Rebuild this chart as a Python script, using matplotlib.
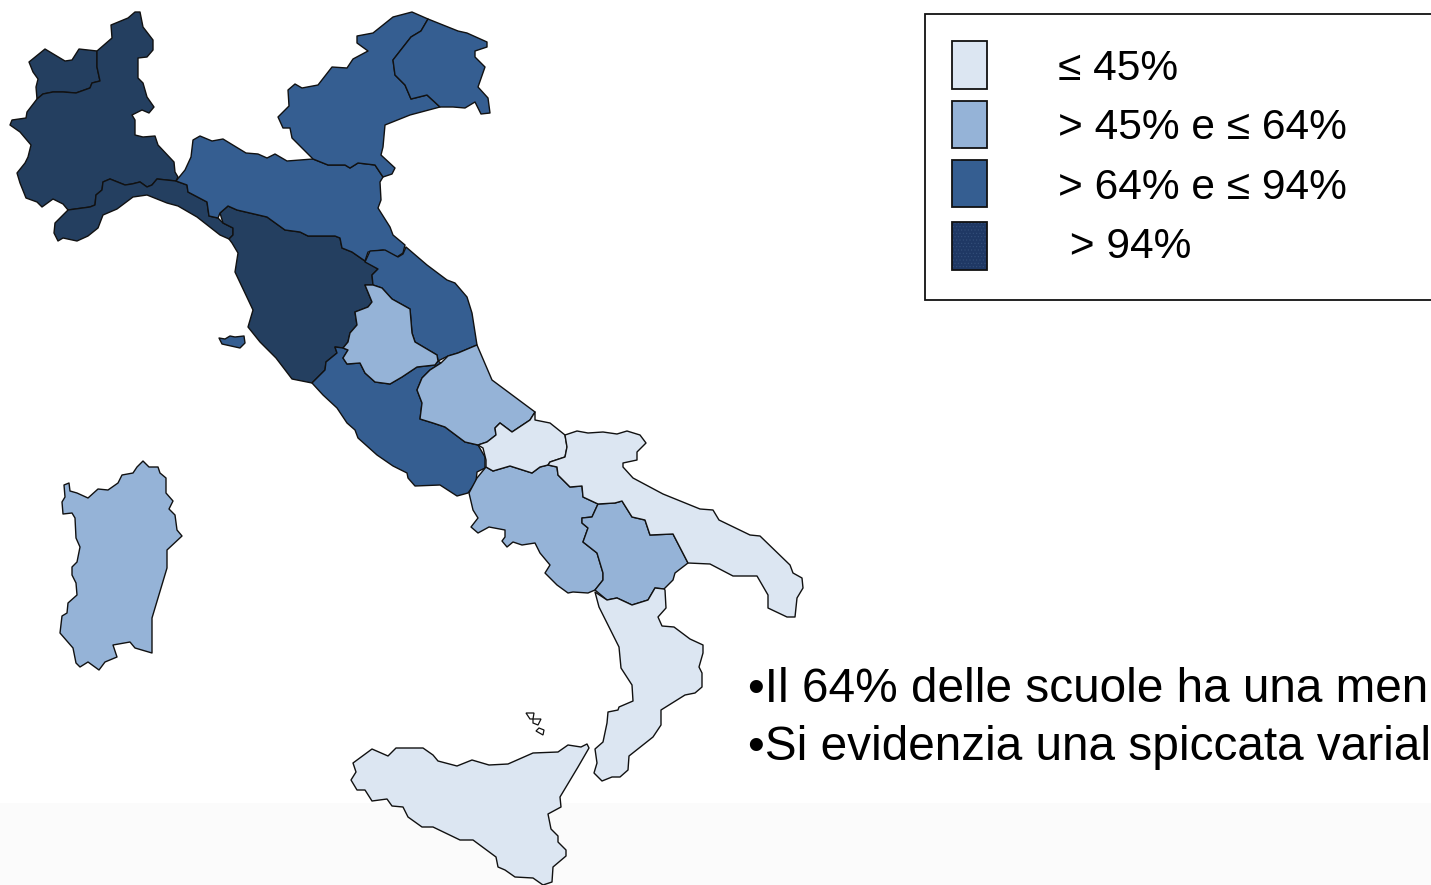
import matplotlib
matplotlib.use('Agg')
import matplotlib.pyplot as plt
from matplotlib.patches import Polygon, Rectangle

plt.rcParams['font.family'] = ['Liberation Sans', 'DejaVu Sans']

LIGHTEST = '#DCE6F2'
LIGHT = '#95B3D7'
MID = '#355E91'
DARK = '#243F60'

# region outlines in image pixels
aosta = [(29,62),(45,49),(55,55),(65,61),(72,60),(79,49),(97,51),(97,67),(100,81),(92,83),(90,88),(76,93),
         (63,92),(53,92),(43,94),(37,99),(36,87),(38,79),(33,72)]
nord_ovest = [(97,51),(112,38),(111,25),(128,18),(135,12),(140,12),(143,27),(153,40),(153,50),(147,57),(138,58),
              (138,78),(143,83),(147,97),(154,107),(149,113),(142,110),(132,115),(135,120),(135,135),(143,137),
              (155,136),(158,145),(174,162),(175,172),(178,177),(176,181),(157,179),(152,185),(147,187),(140,182),
              (132,184),(125,185),(110,179),(103,182),(102,190),(96,195),(95,205),(90,207),(68,210),(63,204),
              (53,199),(42,207),(37,202),(26,198),(20,183),(17,173),(25,163),(28,157),(31,145),(20,132),(10,125),
              (12,120),(26,118),(27,112),(37,99),(43,94),(53,92),(63,92),(76,93),(90,88),(92,83),(100,81),(97,67)]
liguria = [(68,210),(90,207),(95,205),(96,195),(102,190),(103,182),(110,179),(125,185),(132,184),(140,182),(147,187),
           (152,185),(157,179),(176,181),(187,185),(188,192),(207,202),(209,216),(218,218),(223,223),(233,228),
           (233,235),(229,239),(220,235),(197,217),(178,206),(167,203),(147,195),(133,197),(117,209),(103,215),
           (98,228),(88,236),(77,241),(63,238),(58,241),(54,233),(55,223)]
emilia = [(176,181),(185,170),(191,157),(193,140),(200,136),(212,141),(223,139),(246,153),(258,154),(267,158),
          (275,154),(287,161),(313,159),(328,165),(345,165),(350,168),(358,163),(375,165),(383,177),(380,182),
          (381,200),(378,208),(390,227),(393,235),(405,245),(403,253),(397,257),(383,250),(368,252),(365,261),
          (352,252),(342,248),(340,238),(335,236),(308,236),(300,232),(285,230),(267,217),(237,210),(228,206),
          (220,213),(218,218),(209,216),(207,202),(188,192),(187,185)]
veneto = [(313,159),(292,138),(290,128),(283,128),(278,117),(289,106),(288,90),(295,84),(302,88),(318,85),(332,67),
          (347,68),(353,59),(368,51),(357,43),(357,36),(373,33),(393,17),(412,12),(428,19),(421,31),(411,37),
          (393,60),(395,75),(405,85),(411,99),(427,95),(440,107),(410,115),(385,125),(383,147),(381,155),(395,168),
          (392,174),(383,177),(375,165),(358,163),(350,168),(345,165),(328,165)]
friuli = [(428,19),(458,31),(467,33),(487,42),(487,47),(475,51),(475,57),(485,67),(478,87),(488,98),(490,113),
          (481,114),(475,102),(465,108),(453,107),(440,107),(427,95),(411,99),(405,85),(395,75),(393,60),(411,37),
          (421,31)]
toscana = [(220,213),(228,206),(237,210),(267,217),(285,230),(300,232),(308,236),(335,236),(340,238),(342,248),
           (352,252),(365,261),(378,269),(372,275),(373,285),(365,285),(372,302),(368,307),(355,312),(357,325),
           (350,333),(348,342),(343,348),(335,347),(337,353),(326,362),(325,370),(312,383),(292,379),(276,358),
           (260,342),(248,327),(253,310),(235,272),(238,253),(232,243),(229,239),(233,235),(233,228),(223,223)]
elba = [(219,338),(222,344),(240,348),(245,343),(244,336),(235,337),(230,336),(225,339)]
marche = [(365,262),(370,251),(385,250),(398,257),(403,254),(406,247),(427,265),(447,280),(455,283),(467,297),
          (472,313),(477,345),(458,353),(448,356),(438,361),(437,355),(415,342),(412,333),(410,309),(392,299),
          (382,288),(373,285),(372,275),(378,269)]
umbria = [(365,285),(373,285),(382,288),(392,299),(410,309),(412,333),(415,342),(437,355),(438,361),(435,365),
          (417,367),(402,377),(390,384),(375,382),(365,373),(360,363),(347,364),(343,358),(348,350),(343,348),
          (348,342),(350,333),(357,325),(355,312),(368,307),(372,302)]
lazio = [(312,383),(325,370),(326,362),(337,353),(335,347),(343,348),(348,350),(343,358),(347,364),(360,363),
         (365,373),(375,382),(390,384),(402,377),(417,367),(435,365),(438,361),(441,363),(430,370),(422,378),
         (417,390),(422,403),(420,419),(433,423),(445,427),(465,442),(478,445),(485,457),(485,468),(477,472),
         (476,482),(468,493),(457,496),(440,485),(415,486),(408,478),(407,473),(393,466),(377,455),(358,438),
         (355,430),(347,423),(337,408),(323,395)]
abruzzo = [(477,345),(492,380),(535,412),(530,420),(512,432),(500,423),(495,428),(496,435),(487,442),(478,445),
           (465,442),(445,427),(433,423),(420,419),(422,403),(417,390),(422,378),(430,370),(441,363),(448,356),
           (458,353)]
molise = [(535,412),(535,420),(550,423),(565,435),(567,447),(565,457),(550,462),(548,465),(540,467),(532,473),
          (510,466),(493,471),(486,467),(486,460),(483,448),(478,445),(487,442),(496,435),(495,428),(500,423),
          (512,432),(530,420)]
campania = [(486,467),(493,471),(510,466),(532,473),(540,467),(548,465),(557,467),(558,475),(570,487),(582,486),
            (583,497),(598,504),(592,517),(582,518),(582,523),(588,528),(583,542),(597,553),(603,573),(603,580),
            (595,590),(588,593),(573,592),(568,593),(557,585),(545,573),(550,565),(540,553),(535,543),(522,545),
            (513,542),(507,547),(502,541),(505,537),(505,530),(489,527),(478,533),(471,527),(478,518),(473,510),
            (469,493),(477,478)]
basilicata = [(598,504),(615,503),(622,501),(632,517),(645,520),(650,535),(673,534),(688,563),(675,573),(673,580),
              (664,589),(655,588),(648,600),(632,605),(617,598),(607,600),(595,590),(603,580),(603,573),(597,553),
              (583,542),(588,528),(582,523),(582,518),(592,517)]
puglia = [(565,435),(577,431),(588,433),(603,432),(617,434),(627,431),(640,435),(646,443),(637,452),(637,460),
          (623,463),(623,467),(633,478),(663,494),(700,509),(713,510),(719,520),(750,535),(760,536),(790,565),
          (793,573),(802,578),(803,588),(797,598),(795,617),(787,617),(768,608),(768,595),(757,576),(733,576),
          (710,564),(688,563),(673,534),(650,535),(645,520),(632,517),(622,501),(615,503),(598,504),(583,497),
          (582,486),(570,487),(558,475),(557,467),(548,465),(550,462),(565,457),(567,447)]
calabria = [(595,592),(599,607),(619,647),(621,668),(632,685),(633,701),(619,707),(618,710),(608,712),(607,723),
            (603,742),(595,749),(597,763),(594,773),(602,781),(612,777),(620,777),(628,770),(629,756),(653,737),
            (661,725),(661,710),(685,695),(695,693),(702,687),(702,673),(699,667),(703,653),(703,645),(690,639),
            (674,627),(662,626),(658,617),(666,608),(665,590),(664,589),(655,588),(648,600),(632,605),(617,598),
            (607,600)]
sicilia = [(353,763),(372,749),(388,756),(396,748),(423,748),(433,755),(438,761),(457,766),(472,760),(489,765),
           (508,764),(533,753),(558,752),(568,745),(581,747),(587,744),(589,748),(578,767),(560,797),(561,807),
           (548,814),(551,829),(558,836),(558,842),(566,850),(566,856),(553,867),(552,882),(543,885),(533,878),
           (515,877),(505,870),(498,867),(496,857),(473,840),(460,840),(433,827),(422,827),(408,817),(403,807),
           (392,806),(387,799),(372,801),(365,790),(357,790),(351,780),(356,772)]
eolie_1 = [(526,713),(534,713),(533,719),(530,719)]
eolie_2 = [(533,719),(541,719),(538,725),(533,723)]
eolie_3 = [(539,728),(544,730),(543,735),(536,731)]
sardegna = [(64,485),(69,483),(70,491),(77,493),(88,498),(98,489),(108,490),(118,483),(122,475),(133,473),(137,467),
            (143,461),(149,467),(158,467),(160,473),(166,478),(166,493),(173,501),(169,509),(175,515),(177,530),
            (182,536),(167,550),(167,568),(152,618),(152,653),(135,648),(130,642),(113,645),(117,657),(105,662),
            (99,670),(88,662),(80,667),(76,663),(73,648),(60,633),(62,616),(67,613),(68,603),(77,595),(76,583),
            (72,575),(72,567),(77,562),(80,547),(76,538),(75,518),(72,513),(63,514),(62,502),(65,497)]

dark_regions = [aosta, nord_ovest, liguria, toscana]
mid_regions = [emilia, veneto, friuli, elba, marche, lazio]
light_regions = [umbria, abruzzo, campania, basilicata, sardegna]
lightest_regions = [molise, puglia, calabria, sicilia]
eolie = [eolie_1, eolie_2, eolie_3]

legend_labels = ['≤ 45%', '> 45% e ≤ 64%', '> 64% e ≤ 94%', ' > 94%']
legend_colors = [LIGHTEST, LIGHT, MID, '#1F3864']
legend_tops = [41, 101, 160, 222]
legend_bottoms = [89, 148, 207, 270]
legend_text_y = [69, 128, 188, 247]
# both lines stop at the slide edge in the source, so only what shows is kept
notes = ['•Il 64% delle scuole ha una men', '•Si evidenzia una spiccata varial']
notes_y = [689, 747]

fig = plt.figure(figsize=(14.31, 8.85), dpi=100)
ax = fig.add_axes([0, 0, 1, 1])
ax.set_xlim(0, 1431)
ax.set_ylim(885, 0)
ax.axis('off')

# pale strip at the bottom of the slide
ax.add_patch(Rectangle((0, 803), 1431, 82, facecolor='#FBFBFB', edgecolor='none', zorder=0))

for regions, color in [(dark_regions, DARK), (mid_regions, MID), (light_regions, LIGHT), (lightest_regions, LIGHTEST)]:
    for r in regions:
        ax.add_patch(Polygon(r, closed=True, facecolor=color, edgecolor='#111111', linewidth=1.0,
                             joinstyle='round', zorder=2))
for r in eolie:
    ax.add_patch(Polygon(r, closed=True, facecolor='white', edgecolor='#111111', linewidth=0.9, zorder=2))

# legend box runs off the right edge
ax.add_patch(Rectangle((925, 14), 520, 286, facecolor='white', edgecolor='#111111', linewidth=1.3, zorder=1))
for i in range(4):
    h = legend_bottoms[i] - legend_tops[i]
    if i == 3:
        plt.rcParams['hatch.linewidth'] = 0.4
        ax.add_patch(Rectangle((952, legend_tops[i]), 35, h, facecolor=legend_colors[i], edgecolor='#34507A',
                               hatch='.....', linewidth=0, zorder=2))
        ax.add_patch(Rectangle((952, legend_tops[i]), 35, h, facecolor='none', edgecolor='#111111',
                               linewidth=1.3, zorder=3))
    else:
        ax.add_patch(Rectangle((952, legend_tops[i]), 35, h, facecolor=legend_colors[i], edgecolor='#111111',
                               linewidth=1.3, zorder=2))
    ax.text(1058, legend_text_y[i], legend_labels[i], fontsize=30.6, va='center', ha='left', color='black', zorder=4)

for s, y in zip(notes, notes_y):
    ax.text(748, y, s, fontsize=34.4, va='center', ha='left', color='black', zorder=4)

fig.savefig('out.png', dpi=100)
